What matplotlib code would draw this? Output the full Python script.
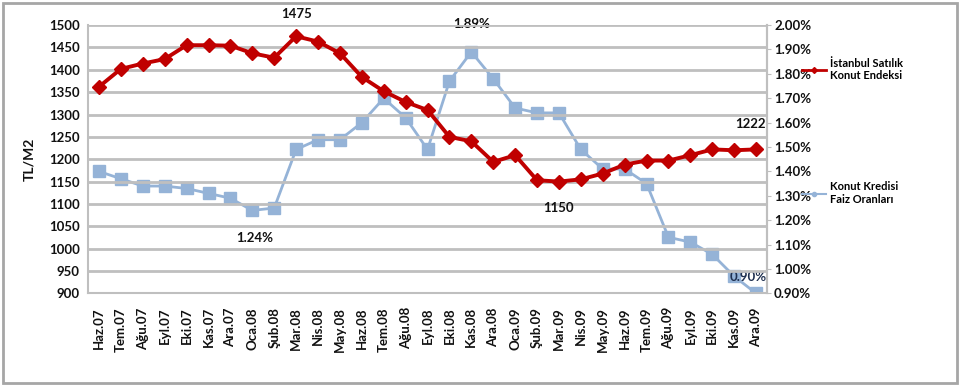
import matplotlib
matplotlib.use('Agg')
import matplotlib.pyplot as plt
from matplotlib.lines import Line2D
from matplotlib.patches import Rectangle
from matplotlib.ticker import FuncFormatter

plt.rcParams['font.family'] = ['Lato', 'DejaVu Sans']
plt.rcParams['font.weight'] = 'bold'

months = ['Haz.07', 'Tem.07', 'Ağu.07', 'Eyl.07', 'Eki.07', 'Kas.07', 'Ara.07',
          'Oca.08', 'Şub.08', 'Mar.08', 'Nis.08', 'May.08', 'Haz.08', 'Tem.08',
          'Ağu.08', 'Eyl.08', 'Eki.08', 'Kas.08', 'Ara.08', 'Oca.09', 'Şub.09',
          'Mar.09', 'Nis.09', 'May.09', 'Haz.09', 'Tem.09', 'Ağu.09', 'Eyl.09',
          'Eki.09', 'Kas.09', 'Ara.09']

# Istanbul satilik konut endeksi (TL/M2)
endeks = [1362, 1402, 1414, 1424, 1455, 1455, 1454, 1437, 1427, 1475, 1463,
          1437, 1384, 1352, 1328, 1310, 1250, 1240, 1194, 1209, 1153, 1150,
          1155, 1168, 1188, 1197, 1197, 1209, 1222, 1220, 1222]

# konut kredisi faiz oranlari (%)
faiz = [1.40, 1.37, 1.34, 1.34, 1.33, 1.31, 1.29, 1.24, 1.25, 1.49, 1.53,
        1.53, 1.60, 1.70, 1.62, 1.49, 1.77, 1.89, 1.78, 1.66, 1.64, 1.64,
        1.49, 1.41, 1.41, 1.35, 1.13, 1.11, 1.06, 0.97, 0.90]

red = '#C00000'
blue = '#95B3D7'
grid_c = '#BFBFBF'
txt = '#111111'

x = list(range(len(months)))

fig = plt.figure(figsize=(9.6, 3.86), dpi=100)
ax = fig.add_axes([0.0917, 0.240, 0.7073, 0.695])
ax2 = ax.twinx()

ax.set_zorder(ax2.get_zorder() + 1)
ax.patch.set_visible(False)

# left axis
ax.set_xlim(-0.5, len(months) - 0.5)
ax.set_ylim(900, 1500)
ax.set_yticks(range(900, 1501, 50))
ax.yaxis.grid(True, color=grid_c, linewidth=2)
ax.set_axisbelow(True)
ax2.set_ylim(0.90, 2.00)
ax2.set_yticks([0.9 + 0.1 * i for i in range(12)])
ax2.yaxis.set_major_formatter(FuncFormatter(lambda v, p: '%.2f%%' % v))

l2, = ax2.plot(x, faiz, color=blue, linewidth=2, marker='s', markersize=8,
               markeredgecolor=blue, zorder=3)
l1, = ax.plot(x, endeks, color=red, linewidth=2.8, marker='D', markersize=7,
              markeredgecolor=red, zorder=4)

for a in (ax, ax2):
    a.spines['top'].set_visible(False)
    for s in ['left', 'right', 'bottom']:
        a.spines[s].set_color(grid_c)
        a.spines[s].set_linewidth(1.5)
    a.tick_params(labelsize=9.5, colors=txt, length=0)
ax2.tick_params(axis='y', length=3, color=grid_c, pad=2)
ax.tick_params(axis='y', pad=6)
ax2.spines['left'].set_visible(False)
ax2.spines['bottom'].set_visible(False)

ax.set_xticks(x)
ax.set_xticklabels(months, rotation=90, fontsize=9.5)
ax.tick_params(axis='x', pad=10)
ax.set_ylabel('TL/M2', fontsize=10, labelpad=10, fontweight='bold', color=txt)

# data labels
ax.annotate('1475', (x[9], endeks[9]), xytext=(0, 16), textcoords='offset points',
            ha='center', va='center', fontsize=9.5, color=txt)
ax.annotate('1150', (x[21], endeks[21]), xytext=(0, -19), textcoords='offset points',
            ha='center', va='center', fontsize=9.5, color=txt)
ax.annotate('1222', (x[30], endeks[30]), xytext=(-4, 18), textcoords='offset points',
            ha='center', va='center', fontsize=9.5, color=txt)
ax2.annotate('1.89%', (x[17], faiz[17]), xytext=(0, 20), textcoords='offset points',
             ha='center', va='center', fontsize=9.5, color=txt)
ax2.annotate('1.24%', (x[7] + 0.1, faiz[7]), xytext=(0, -20), textcoords='offset points',
             ha='center', va='center', fontsize=9.5, color=txt)
ax2.annotate('0.90%', (x[30], faiz[30]), xytext=(-6, 12), textcoords='offset points',
             ha='center', va='center', fontsize=9.5, color='#1F3050')

# legend
fig.legend([Line2D([], [], color=red, linewidth=2, marker='D', markersize=3)],
           ['İstanbul Satılık\nKonut Endeksi'], loc='center left',
           bbox_to_anchor=(0.825, 0.82), frameon=False, fontsize=8,
           handlelength=2.2, handletextpad=0.3, labelspacing=1.2)
fig.legend([Line2D([], [], color=blue, linewidth=1.5, marker='o', markersize=3)],
           ['Konut Kredisi\nFaiz Oranları'], loc='center left',
           bbox_to_anchor=(0.825, 0.50), frameon=False, fontsize=8,
           handlelength=2.2, handletextpad=0.3)

# outer chart frame
fig.patches.append(Rectangle((0.003, 0.008), 0.994, 0.985, transform=fig.transFigure,
                             fill=False, edgecolor='#A6A6A6', linewidth=2))

fig.savefig('out.png', dpi=100)
